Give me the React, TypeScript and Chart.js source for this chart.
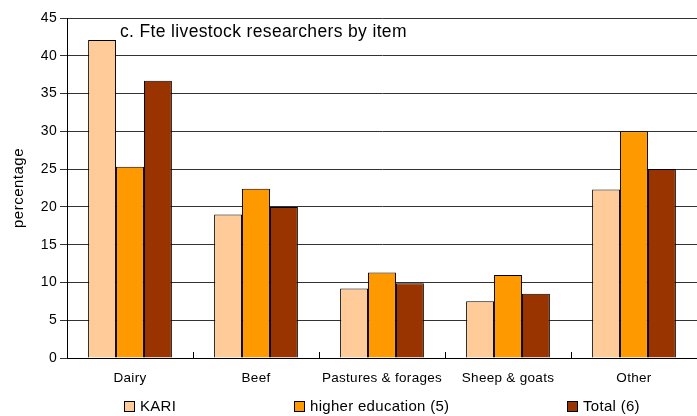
import React, { useEffect, useRef } from "react";
import { Chart, registerables } from "chart.js";

Chart.register(...registerables);

const categories = ["Dairy", "Beef", "Pastures & forages", "Sheep & goats", "Other"];
const kari = [42.1, 19.0, 9.2, 7.5, 22.3];
const higherEducation = [25.3, 22.4, 11.3, 11.0, 30.0];
const total = [36.7, 20.0, 9.9, 8.5, 25.0];
const seriesNames = ["KARI", "higher education (5)", "Total (6)"];
const seriesColors = ["#FFCC99", "#FF9900", "#993300"];
const chartTitle = "c. Fte livestock researchers by item";
const yTitle = "percentage";
const FONT = "'Liberation Sans', Arial, sans-serif";

const spacingPlugin = {
  id: "spacing",
  beforeDraw(chart: any) {
    chart.ctx.letterSpacing = "0.3px";
  },
};

const decorPlugin = {
  id: "decor",
  afterDraw(chart: any) {
    const { ctx, chartArea, scales } = chart;
    const x = scales.x;
    ctx.save();
    ctx.strokeStyle = "#000";
    ctx.lineWidth = 1;
    const half = (x.getPixelForValue(1) - x.getPixelForValue(0)) / 2;
    for (let i = 1; i < categories.length; i++) {
      const px = Math.round(x.getPixelForValue(i) - half) + 0.5;
      ctx.beginPath();
      ctx.moveTo(px, chartArea.bottom);
      ctx.lineTo(px, chartArea.bottom - 6);
      ctx.stroke();
    }
    ctx.fillStyle = "#000";
    ctx.textBaseline = "middle";
    ctx.textAlign = "left";
    ctx.font = `17.5px ${FONT}`;
    ctx.letterSpacing = "0.35px";
    ctx.fillText(chartTitle, chartArea.left + 53, chartArea.top + 14);
    // y title
    ctx.save();
    ctx.font = `15px ${FONT}`;
    ctx.letterSpacing = "0.5px";
    ctx.translate(19, (chartArea.top + chartArea.bottom) / 2);
    ctx.rotate(-Math.PI / 2);
    ctx.textAlign = "center";
    ctx.fillText(yTitle, 0, 0);
    ctx.restore();
    // legend
    const offsets = [57, 227, 500];
    ctx.font = `15px ${FONT}`;
    ctx.letterSpacing = "0.3px";
    const by = chartArea.bottom + 43;
    seriesNames.forEach((name, i) => {
      const bx = chartArea.left + offsets[i];
      ctx.fillStyle = seriesColors[i];
      ctx.fillRect(bx, by, 10, 10);
      ctx.strokeStyle = "#000";
      ctx.strokeRect(bx + 0.5, by + 0.5, 10, 10);
      ctx.fillStyle = "#000";
      ctx.fillText(name, bx + 16, by + 5.5);
    });
    ctx.restore();
  },
};

export default function App() {
  const ref = useRef<HTMLCanvasElement>(null);
  useEffect(() => {
    if (!ref.current) return;
    const data = [kari, higherEducation, total];
    const chart = new Chart(ref.current, {
      type: "bar",
      data: {
        labels: categories,
        datasets: seriesNames.map((n, i) => ({
          label: n,
          data: data[i],
          backgroundColor: seriesColors[i],
          borderColor: "#000",
          borderWidth: 1,
          barPercentage: 1,
          categoryPercentage: 0.665,
        })),
      },
      options: {
        animation: false,
        responsive: false,
        layout: { padding: { top: 18, bottom: 30, left: 0, right: 0 } },
        plugins: { legend: { display: false }, tooltip: { enabled: false } },
        scales: {
          x: {
            grid: { display: true, drawOnChartArea: false, drawTicks: false },
            border: { color: "#000", width: 1 },
            ticks: { color: "#000", font: { family: FONT, size: 13.5 }, padding: 12, maxRotation: 0 },
            afterFit: (s: any) => { s.height = 28; },
          },
          y: {
            min: 0,
            max: 45,
            ticks: { stepSize: 5, color: "#000", font: { family: FONT, size: 14 }, padding: 3 },
            grid: { color: "#333", tickLength: 7 },
            border: { color: "#000", width: 1 },
            afterFit: (s: any) => { s.width = 67; },
          },
        },
      },
      plugins: [spacingPlugin, decorPlugin],
    });
    return () => chart.destroy();
  }, []);
  return (
    <div style={{ position: "fixed", left: 0, top: 0, width: 697, height: 416, background: "#fff" }}>
      <canvas ref={ref} width={697} height={416} style={{ width: 697, height: 416 }} />
    </div>
  );
}
